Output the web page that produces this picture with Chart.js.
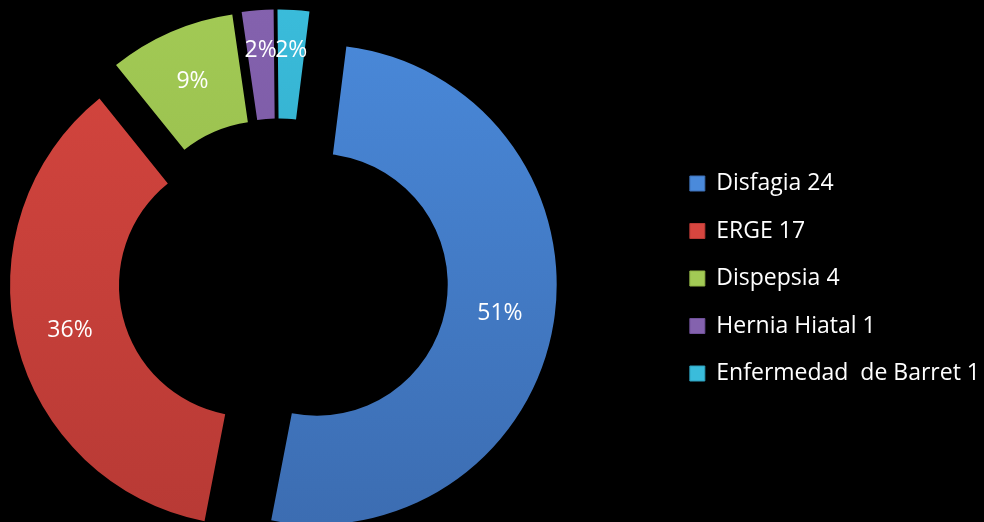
<!DOCTYPE html>
<html><head><meta charset="utf-8">
<script src="https://cdn.jsdelivr.net/npm/chart.js@4"></script>
<style>
html,body{margin:0;padding:0;background:#000;overflow:hidden;width:984px;height:522px;}
#wrap{position:absolute;left:-109px;top:0;width:1099px;height:522px;}
</style></head><body>
<div id="wrap"><canvas id="c"></canvas></div>
<script>
// ---- data ----
const categories = ['Disfagia', 'ERGE', 'Dispepsia', 'Hernia Hiatal', 'Enfermedad  de Barret'];
const values = [24, 17, 4, 1, 1];
const legendLabels = categories.map((c, i) => c + ' ' + values[i]);

// ---- styles ----
const colorsTop = ['#4A8ADB', '#D6463F', '#A2CA55', '#8462AE', '#3ABCDB'];
const colorsBottom = ['#3C6DB2', '#B83A35', '#8FB245', '#70519A', '#2C9DBA'];
const explode = [39, 29, 29, 29, 29];
const labelNudge = [0, 0, 0, 14, 14];
const FONT = '"Open Sans"';

const total = values.reduce((a, b) => a + b, 0);

function fillFor(ctx) {
  const chart = ctx.chart;
  const i = ctx.dataIndex;
  if (i === undefined) return colorsTop[0];
  const g = chart.ctx.createLinearGradient(0, 0, 0, chart.height);
  g.addColorStop(0, colorsTop[i]);
  g.addColorStop(1, colorsBottom[i]);
  return g;
}

const explodePlugin = {
  id: 'explode',
  afterDatasetsUpdate(chart) {
    const meta = chart.getDatasetMeta(0);
    meta.data.forEach((arc, i) => {
      const mid = (arc.startAngle + arc.endAngle) / 2;
      arc.x += Math.cos(mid) * explode[i];
      arc.y += Math.sin(mid) * explode[i];
    });
  }
};

const pctLabels = {
  id: 'pctLabels',
  afterDatasetsDraw(chart) {
    const ctx = chart.ctx;
    const meta = chart.getDatasetMeta(0);
    ctx.save();
    ctx.fillStyle = '#fff';
    ctx.font = '23px ' + FONT;
    ctx.textAlign = 'center';
    ctx.textBaseline = 'middle';
    meta.data.forEach((arc, i) => {
      const mid = (arc.startAngle + arc.endAngle) / 2;
      const r = (arc.innerRadius + arc.outerRadius) / 2 + labelNudge[i];
      ctx.fillText(Math.round(values[i] / total * 100) + '%', arc.x + Math.cos(mid) * r, arc.y + Math.sin(mid) * r);
    });
    ctx.restore();
  }
};

new Chart(document.getElementById('c'), {
  type: 'doughnut',
  data: {
    labels: legendLabels,
    datasets: [{
      data: values,
      backgroundColor: fillFor,
      borderWidth: 0,
      clip: false
    }]
  },
  options: {
    responsive: true,
    maintainAspectRatio: false,
    animation: false,
    events: [],
    rotation: 7.1,
    radius: 240,
    cutout: '54.6%',
    layout: { padding: { top: 35 } },
    plugins: {
      tooltip: { enabled: false },
      legend: {
        position: 'right',
        labels: {
          color: '#ffffff',
          font: { family: FONT, size: 23 },
          boxWidth: 15,
          boxHeight: 15,
          padding: 24.5,
          generateLabels(chart) {
            return legendLabels.map((t, i) => ({
              text: t,
              fillStyle: colorsTop[i],
              strokeStyle: colorsBottom[i],
              lineWidth: 1,
              fontColor: '#ffffff',
              hidden: false,
              index: i
            }));
          }
        }
      }
    }
  },
  plugins: [explodePlugin, pctLabels]
});
</script>
</body></html>
